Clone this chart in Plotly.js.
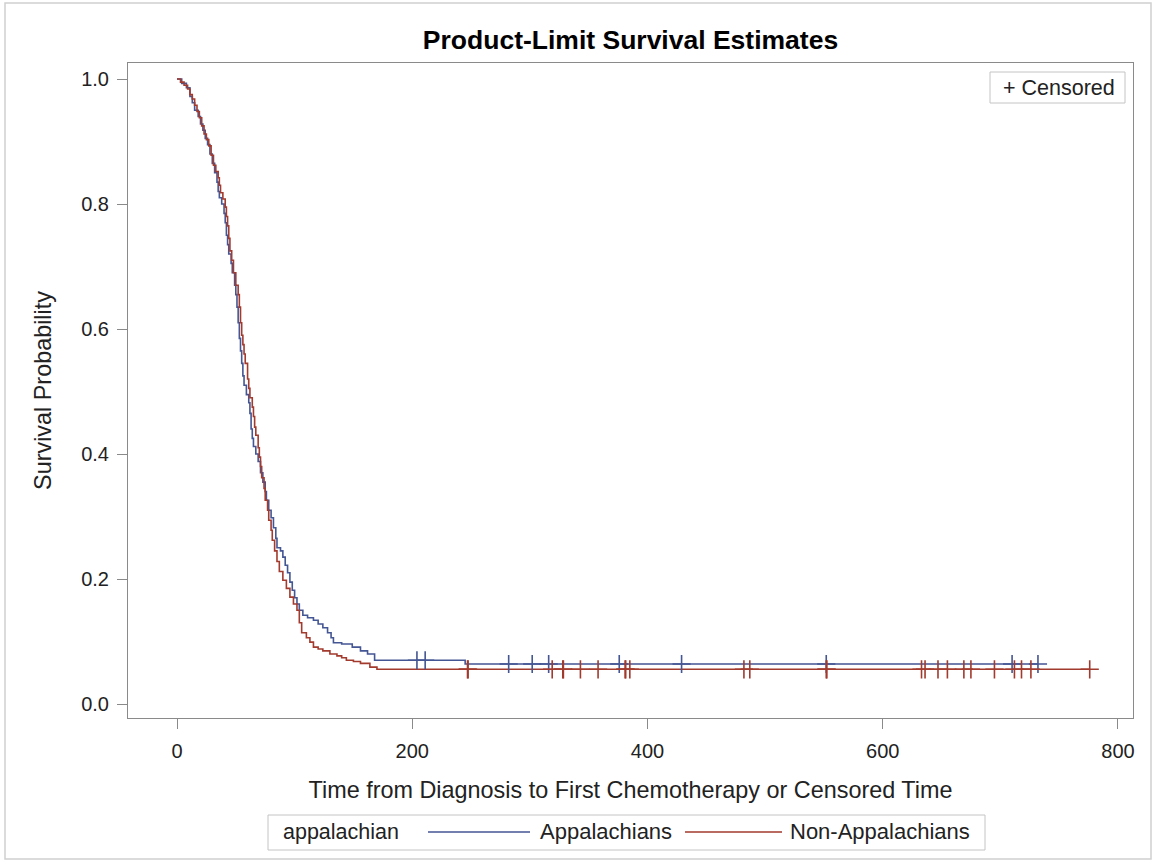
<!DOCTYPE html>
<html>
<head>
<meta charset="utf-8">
<script src="https://cdn.plot.ly/plotly-3.0.1.min.js"></script>
<style>html,body{margin:0;padding:0;background:#fff;}#chart{width:1155px;height:863px;}</style>
</head>
<body>
<div id="chart"></div>
<script>
// ---- data ----
const seriesNames = ["Appalachians", "Non-Appalachians"];
const legendTitle = "appalachian";

const appTime = [0,4,8,11,13,15,18,20,22,24,26,28,30,32,34,35,36,38,40,41,42,43,44,46,47,49,50,51,52,53,54,55,56,57,59,61,62,63,64,65,67,69,71,73,75,76,78,80,82,84,85,88,90,92,94,96,98,100,102,104,107,111,116,120,124,128,131,133,140,149,156,162,168,245,732];
const appSurv = [1.0,0.993,0.986,0.972,0.962,0.95,0.94,0.928,0.918,0.905,0.895,0.88,0.865,0.85,0.835,0.82,0.81,0.80,0.785,0.77,0.75,0.735,0.72,0.705,0.69,0.67,0.655,0.635,0.61,0.585,0.565,0.545,0.525,0.51,0.495,0.482,0.465,0.44,0.425,0.412,0.40,0.388,0.37,0.355,0.34,0.326,0.31,0.298,0.282,0.265,0.25,0.245,0.235,0.222,0.21,0.195,0.182,0.17,0.16,0.15,0.142,0.138,0.134,0.128,0.122,0.114,0.106,0.098,0.096,0.091,0.085,0.08,0.07,0.064,0.064];
const appCensored = [204,211,282,302,316,376,429,552,710,732];

const nonTime = [0,3,6,9,11,13,15,17,19,21,23,25,27,29,31,33,35,36,37,39,41,42,43,44,45,46.5,48,50,52,53,54,55,56,57,58,60,61,62,64,65,66,67,69,70,71,72,74,75,77,78,80,81,83,85,87,90,93,96,99,102,104,106,110,113,116,120,124,130,136,140,144,150,156,164,170,776];
const nonSurv = [1.0,0.995,0.99,0.984,0.975,0.968,0.958,0.948,0.938,0.925,0.912,0.903,0.893,0.878,0.862,0.852,0.842,0.83,0.818,0.808,0.795,0.78,0.765,0.745,0.725,0.71,0.69,0.67,0.655,0.635,0.61,0.59,0.575,0.56,0.545,0.52,0.505,0.49,0.475,0.46,0.443,0.43,0.41,0.395,0.38,0.362,0.345,0.326,0.31,0.294,0.278,0.262,0.245,0.228,0.212,0.198,0.185,0.171,0.16,0.15,0.13,0.114,0.106,0.099,0.091,0.088,0.085,0.08,0.077,0.074,0.07,0.068,0.065,0.059,0.0555,0.0555];
const nonCensored = [247,247.5,319,328,328.5,343,358,381,381.5,385,482,487,552,552.5,633,636,647,655,669,675,695,712,718,726,776];

const xTicks = [0,200,400,600,800];
const yTicks = [0.0,0.2,0.4,0.6,0.8,1.0];

// ---- helpers ----
function stepAt(times, surv, t){
  let v = surv[0];
  for (let i=0;i<times.length;i++){ if (times[i] <= t) v = surv[i]; else break; }
  return v;
}
const blue = "#445694", red = "#A23A2E";
const font = "Liberation Sans, Arial, Helvetica, sans-serif";

const traces = [
  {x: appTime, y: appSurv, type:"scatter", mode:"lines", line:{shape:"hv", color:blue, width:1.6}, name:seriesNames[0], showlegend:false, hoverinfo:"x+y"},
  {x: nonTime, y: nonSurv, type:"scatter", mode:"lines", line:{shape:"hv", color:red, width:1.6}, name:seriesNames[1], showlegend:false, hoverinfo:"x+y"},
  {x: appCensored, y: appCensored.map(t=>stepAt(appTime, appSurv, t)), type:"scatter", mode:"markers",
   marker:{symbol:"cross-thin", size:13, line:{color:blue, width:1.6}, color:blue}, showlegend:false, hoverinfo:"x"},
  {x: nonCensored, y: nonCensored.map(t=>stepAt(nonTime, nonSurv, t)), type:"scatter", mode:"markers",
   marker:{symbol:"cross-thin", size:13, line:{color:red, width:1.6}, color:red}, showlegend:false, hoverinfo:"x"}
];

const px = p => (p-128)/1005;
const py = p => (718-p)/655;
const frameColor = "#8a8a8a";

const layout = {
  width:1155, height:863,
  margin:{l:128, r:22, t:63, b:145},
  paper_bgcolor:"#fff", plot_bgcolor:"#fff",
  font:{family:font, color:"#222", size:20},
  title:{text:"<b>Product-Limit Survival Estimates</b>", font:{family:font, size:26.5, color:"#000"},
         x:0.5, xref:"paper", xanchor:"center", y:1-40/863, yref:"container", yanchor:"middle"},
  xaxis:{range:[-41.66, 812.8], tickvals:xTicks, ticktext:xTicks.map(String), ticks:"outside", ticklen:10, tickwidth:1,
         tickcolor:frameColor, showline:true, linecolor:frameColor, linewidth:1, mirror:true, showgrid:false, zeroline:false,
         tickfont:{size:20, color:"#222"}, ticklabelstandoff:5,
         title:{text:"Time from Diagnosis to First Chemotherapy or Censored Time", font:{size:23.4, color:"#222"}, standoff:20}},
  yaxis:{range:[-0.0224, 1.0256], tickvals:yTicks, ticktext:yTicks.map(v=>v.toFixed(1)), ticks:"outside", ticklen:10, tickwidth:1,
         tickcolor:frameColor, showline:true, linecolor:frameColor, linewidth:1, mirror:true, showgrid:false, zeroline:false,
         tickfont:{size:20, color:"#222"}, ticklabelstandoff:4,
         title:{text:"Survival Probability", font:{size:23.4, color:"#222"}, standoff:22}},
  shapes:[
    {type:"rect", xref:"paper", yref:"paper", x0:px(5), x1:px(1151), y0:py(859), y1:py(3), line:{color:"#d0d0d0", width:1.5}, fillcolor:"rgba(0,0,0,0)", layer:"below"},
    {type:"rect", xref:"paper", yref:"paper", x0:px(990), x1:px(1125), y0:py(103), y1:py(72), line:{color:"#c4c4c4", width:1}, fillcolor:"#fff"},
    {type:"rect", xref:"paper", yref:"paper", x0:px(268), x1:px(985), y0:py(850), y1:py(815), line:{color:"#c4c4c4", width:1}, fillcolor:"#fff"},
    {type:"line", xref:"paper", yref:"paper", x0:px(428), x1:px(530), y0:py(832), y1:py(832), line:{color:blue, width:1.6}},
    {type:"line", xref:"paper", yref:"paper", x0:px(685), x1:px(782), y0:py(832), y1:py(832), line:{color:red, width:1.6}}
  ],
  annotations:[
    {text:"+ Censored", xref:"paper", yref:"paper", x:px(1059), y:py(87.5), xanchor:"center", yanchor:"middle", showarrow:false, font:{size:21.5, color:"#222"}},
    {text:legendTitle, xref:"paper", yref:"paper", x:px(281), y:py(832), xanchor:"left", yanchor:"middle", showarrow:false, font:{size:21.5, color:"#222"}},
    {text:seriesNames[0], xref:"paper", yref:"paper", x:px(538), y:py(832), xanchor:"left", yanchor:"middle", showarrow:false, font:{size:22, color:"#222"}},
    {text:seriesNames[1], xref:"paper", yref:"paper", x:px(788), y:py(832), xanchor:"left", yanchor:"middle", showarrow:false, font:{size:22, color:"#222"}}
  ],
  showlegend:false
};

Plotly.newPlot("chart", traces, layout, {displayModeBar:false, staticPlot:true});
</script>
</body>
</html>
